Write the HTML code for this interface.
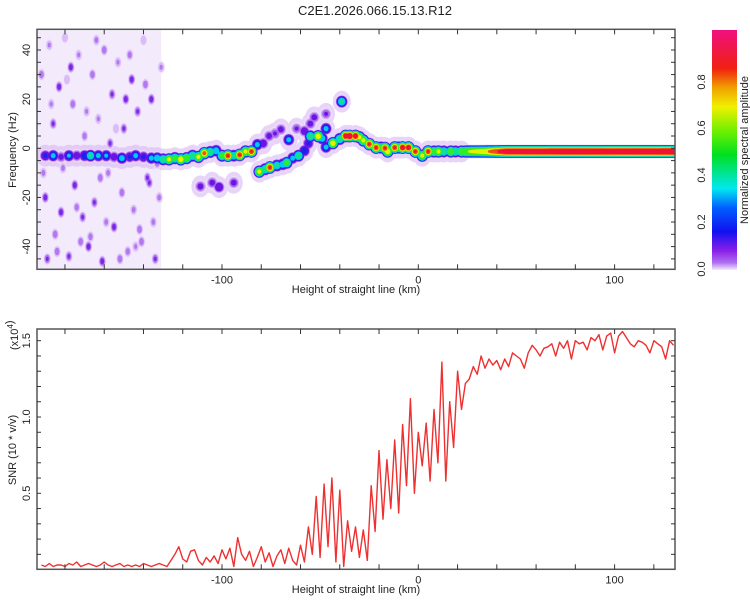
<!DOCTYPE html>
<html><head><meta charset="utf-8"><style>
body{margin:0;background:#fff;}
svg{display:block;font-family:"Liberation Sans",sans-serif;}
</style></head><body>
<svg id="chart" width="750" height="600" viewBox="0 0 750 600" xmlns="http://www.w3.org/2000/svg">
<defs>
<linearGradient id="cbar" x1="0" y1="1" x2="0" y2="0">
<stop offset="0" stop-color="#f4ecfc"/><stop offset="0.03" stop-color="#b070f0"/><stop offset="0.08" stop-color="#8a20e8"/>
<stop offset="0.16" stop-color="#1010f0"/><stop offset="0.26" stop-color="#0060ff"/><stop offset="0.34" stop-color="#00e8f0"/>
<stop offset="0.48" stop-color="#00e020"/><stop offset="0.58" stop-color="#70f000"/><stop offset="0.68" stop-color="#f0f000"/>
<stop offset="0.76" stop-color="#f0a000"/><stop offset="0.84" stop-color="#f02010"/><stop offset="1" stop-color="#f01080"/>
</linearGradient>
<clipPath id="clipTop"><rect x="37" y="29" width="638" height="240"/></clipPath>
<clipPath id="clipBot"><rect x="37" y="329" width="638" height="240"/></clipPath>
</defs>
<text x="375" y="15" text-anchor="middle" font-size="13" fill="#222">C2E1.2026.066.15.13.R12</text>
<g id="topPanel"></g>
<g id="botPanel"></g>
<rect x="712" y="30" width="25" height="240" fill="url(#cbar)"/>
<g font-size="11" fill="#222">
<text transform="translate(705,269) rotate(-90)" text-anchor="middle">0.0</text>
<text transform="translate(705,222) rotate(-90)" text-anchor="middle">0.2</text>
<text transform="translate(705,175) rotate(-90)" text-anchor="middle">0.4</text>
<text transform="translate(705,128) rotate(-90)" text-anchor="middle">0.6</text>
<text transform="translate(705,82) rotate(-90)" text-anchor="middle">0.8</text>
</g>
<text transform="translate(748,150) rotate(-90)" text-anchor="middle" font-size="11" fill="#222">Normalized spectral amplitude</text>
<text transform="translate(16,150) rotate(-90)" text-anchor="middle" font-size="11" fill="#222">Frequency (Hz)</text>
<text x="356" y="293" text-anchor="middle" font-size="11" fill="#222">Height of straight line (km)</text>
<text transform="translate(16,450) rotate(-90)" text-anchor="middle" font-size="11" fill="#222">SNR (10 * v/v)</text>
<text transform="translate(18,350) rotate(-90)" font-size="11" fill="#222">(x10<tspan font-size="8" dy="-5">4</tspan>)</text>
<text x="356" y="593" text-anchor="middle" font-size="11" fill="#222">Height of straight line (km)</text>
</svg>
<script>
// ---------- data ----------
const trackKm = [-190,-186,-182,-178,-174,-170,-167,-163,-159,-155,-151,-147,-144,-140,-136,-133,-130,-127,-124,-121,-118,-115,-112,-109,-106,-103,-100,-97,-94,-91,-88,-85,-82,-79,-76,-73,-70,-66,-62,-58,-55,-53,-47,-39,-81,-78,-75.6,-72,-69,-67,-64,-61,-58,-56,-55,-51,-49,-47,-47,-43.5,-40,-37,-35,-32,-30,-28,-25,-21.5,-19,-17,-15.6,-12,-10,-8,-5,-1.5,2,5,8,10.3,13,16.6,19,22,-111,-105,-101.5,-94];
const trackHz = [-3,-3,-3.5,-3,-3,-3,-3,-3,-3,-3.5,-4,-3.5,-3,-3.5,-4,-4,-4.5,-4.5,-4,-4.5,-4,-3,-3.5,-2,-1.5,-1,-3,-3,-3,-2.7,-1.3,-1.3,1.5,2,5,6,7.7,3.5,8,7,10,12.6,14,19,-9.5,-8.5,-7.8,-7,-6.5,-5.9,-4,-3,-1,2,4.9,4.9,4,8,0.5,2.1,3.8,5,5,5,4.5,3.2,1.7,0.3,0.3,0.1,-1.3,0.3,0.3,0.3,0.3,-1.3,-3,-1.3,-1.3,-1.3,-1.3,-1.3,-1.3,-1.3,-15.5,-14,-15.8,-14];
const trackAmp = [0.3,0.4,0.22,0.38,0.25,0.35,0.5,0.4,0.38,0.25,0.42,0.3,0.4,0.3,0.4,0.45,0.55,0.7,0.6,0.75,0.65,0.55,0.7,0.8,0.55,0.45,0.6,0.85,0.5,0.85,0.7,0.85,0.4,0.25,0.22,0.2,0.22,0.4,0.2,0.25,0.22,0.22,0.2,0.5,0.7,0.55,0.85,0.5,0.45,0.6,0.4,0.55,0.35,0.3,0.55,0.75,0.45,0.4,0.4,0.75,0.55,0.9,0.95,0.9,0.7,0.7,0.85,0.85,0.6,0.85,0.75,0.85,0.65,0.9,0.9,0.85,0.7,0.85,0.6,0.7,0.55,0.65,0.55,0.65,0.22,0.22,0.28,0.22];
const lineKm = [24,35,45,131];
const lineAmp = [0.65,0.75,0.92,0.95];
const lineHz = -1.3;
const noiseKm = [-192,-190,-188,-186,-185,-183,-181,-180,-178,-176,-175,-173,-171,-170,-168,-166,-165,-163,-161,-160,-158,-156,-155,-153,-151,-150,-148,-146,-145,-143,-141,-140,-138,-136,-135,-133,-131,-189,-182,-172,-164,-157,-149,-142,-137,-177,-167,-152,-134,-187,-191,-184,-179,-174,-169,-162,-159,-154,-147,-144,-139,-132];
const noiseHz = [30,-20,42,10,-35,25,-8,45,-44,18,-15,38,-28,5,-40,30,-22,12,-46,40,-10,22,-32,35,-18,8,-42,28,-25,15,-38,44,-12,20,-30,-6,33,-45,-26,-38,44,2,20,-33,-14,33,-36,-45,-45,18,-10,-42,28,-24,15,-12,-30,8,38,-40,26,-20];
const noiseAmp = [0.18,0.22,0.15,0.2,0.18,0.22,0.16,0.14,0.2,0.18,0.22,0.15,0.2,0.17,0.22,0.18,0.2,0.15,0.22,0.18,0.16,0.2,0.22,0.15,0.18,0.2,0.17,0.22,0.16,0.2,0.18,0.14,0.2,0.22,0.16,0.18,0.15,0.2,0.22,0.18,0.16,0.2,0.22,0.18,0.2,0.22,0.17,0.18,0.2,0.15,0.16,0.18,0.14,0.17,0.15,0.18,0.16,0.14,0.17,0.15,0.18,0.16];
const snrStartKm = -192, snrStepKm = 2;
const snrValues = [0.03,0.02,0.04,0.02,0.03,0.03,0.02,0.04,0.03,0.05,0.02,0.03,0.04,0.03,0.02,0.03,0.05,0.03,0.02,0.03,0.04,0.02,0.03,0.02,0.03,0.02,0.04,0.03,0.02,0.03,0.04,
0.03,0.02,0.06,0.10,0.15,0.07,0.05,0.12,0.13,0.06,0.03,0.08,0.05,0.09,0.04,0.13,0.07,0.14,0.02,0.21,0.10,0.06,0.12,0.02,0.08,0.15,0.05,0.11,0.02,0.09,0.13,0.04,0.14,0.06,0.03,0.16,0.05,
0.28,0.10,0.48,0.08,0.56,0.15,0.60,0.05,0.52,0.02,0.32,0.12,0.28,0.08,0.26,0.06,0.55,0.25,0.78,0.33,0.72,0.40,0.85,0.37,0.95,0.55,1.12,0.50,0.90,0.68,0.96,0.58,1.05,0.70,1.36,0.58,1.10,0.80,1.30,1.05,1.22,1.25,1.33,1.28,1.40,1.32,1.38,1.34,1.37,1.31,1.38,1.33,1.42,1.40,1.38,1.32,1.42,1.47,1.44,1.40,1.45,1.46,1.48,1.40,1.49,1.45,1.50,1.38,1.50,1.48,1.49,1.44,1.52,1.50,1.54,1.44,1.53,1.55,1.42,1.53,1.56,1.52,1.48,1.46,1.50,1.49,1.47,1.42,1.50,1.48,1.46,1.38,1.50,1.47];
const xTicks = [-180,-160,-140,-120,-100,-80,-60,-40,-20,0,20,40,60,80,100,120];
const xLabels = [-100,0,100];
const topYTicks = [-45,-40,-35,-30,-25,-20,-15,-10,-5,0,5,10,15,20,25,30,35,40,45];
const topYLabels = [-40,-20,0,20,40];
const botYTicks = [0.1,0.2,0.3,0.4,0.5,0.6,0.7,0.8,0.9,1.0,1.1,1.2,1.3,1.4,1.5];
const botYLabels = ["0.5","1.0","1.5"];

// ---------- scales ----------
const X0=37, X1=675;
const xS = km => 418.3 + 1.963*km;
const yTop = hz => 148.3 - 2.4575*hz;
const yBot = v => 569.6 - 152.6*v;
const NS="http://www.w3.org/2000/svg";
function mk(tag, attrs, parent){const e=document.createElementNS(NS,tag);for(const k in attrs)e.setAttribute(k,attrs[k]);parent.appendChild(e);return e;}

const topG=document.getElementById('topPanel'), botG=document.getElementById('botPanel');
const levels=[[0.02,'#efe3fb'],[0.08,'#d4b2f5'],[0.14,'#a766f0'],[0.19,'#6c14e2'],[0.28,'#2020f0'],[0.36,'#00c8f2'],[0.46,'#10e090'],[0.55,'#30ee20'],[0.66,'#e8f000'],[0.76,'#f05010'],[0.84,'#f0103a']];
const R=6;

const topPlot=mk('g',{'clip-path':'url(#clipTop)'},topG);


const haze=mk('rect',{x:xS(-194.2),y:29,width:xS(-131)-xS(-194.2),height:240,fill:'#efe4fa',opacity:0.75},topPlot);



// soft halo around track
const halo=mk('g',{fill:'#d8b8f4',opacity:0.6},topPlot);


trackKm.forEach((k,i)=>{
  const h=mk('ellipse',{cx:xS(k),cy:yTop(trackHz[i]),rx:R+3,ry:R+5},halo);
  
  
});

const blobs=[];
for(let i=0;i<noiseKm.length;i++) blobs.push([noiseKm[i],noiseHz[i],noiseAmp[i],3.6,1.6]);
for(let i=0;i<trackKm.length;i++) blobs.push([trackKm[i],trackHz[i],trackAmp[i],R,1.05]);
function interpAmp(k){for(let j=0;j<lineKm.length-1;j++){if(k<=lineKm[j+1]){const t=(k-lineKm[j])/(lineKm[j+1]-lineKm[j]);return lineAmp[j]+t*(lineAmp[j+1]-lineAmp[j]);}}return lineAmp[lineAmp.length-1];}
for(let k=lineKm[0];k<=lineKm[lineKm.length-1];k+=1) blobs.push([k,lineHz,interpAmp(k),R,1.05]);

levels.forEach(([t,c],li)=>{
  const g=mk('g',{fill:c},topPlot);
  
  
  blobs.forEach(b=>{
    if(b[2]<=t) return;
    const r=b[3]*Math.sqrt((b[2]-t)/b[2])+0.6;
    const c1=mk('ellipse',{cx:xS(b[0]),cy:yTop(b[1]),rx:r,ry:r*b[4],opacity:b[4]>1.2?0.8:1},g);
    
    
  });
});

function frame(parent, yA, yB, yTicks, yF, yLabels, yLabF, name){
  const fr=mk('rect',{x:X0,y:yA,width:X1-X0,height:yB-yA,fill:'none',stroke:'#555','stroke-width':1.5},parent);
  
  
  xTicks.forEach(k=>{
    const x=xS(k);
    const t1=mk('line',{x1:x,x2:x,y1:yA,y2:yA+5,stroke:'#333'},parent);
    
    
    const t2=mk('line',{x1:x,x2:x,y1:yB,y2:yB-5,stroke:'#333'},parent);
    
    
  });
  xLabels.forEach(k=>{
    const t=mk('text',{x:xS(k),y:yB+14,'text-anchor':'middle','font-size':11,fill:'#222'},parent);
    t.textContent=k;
    
    
  });
  yTicks.forEach(v=>{
    const y=yF(v);
    const t1=mk('line',{x1:X0,x2:X0+4,y1:y,y2:y,stroke:'#333'},parent);
    
    
    const t2=mk('line',{x1:X1,x2:X1-4,y1:y,y2:y,stroke:'#333'},parent);
    
    
  });
  yLabels.forEach(v=>{
    const y=yLabF(v);
    const t=mk('text',{transform:`translate(${X0-7},${y}) rotate(-90)`,'text-anchor':'middle','font-size':11,fill:'#222'},parent);
    t.textContent=v;
    
    
  });
}
frame(topG,29.3,269.3,topYTicks,yTop,topYLabels,yTop,'spectrogram');

const botPlot=mk('g',{'clip-path':'url(#clipBot)'},botG);


const pts=snrValues.map((v,i)=>xS(snrStartKm+i*snrStepKm).toFixed(1)+','+yBot(v).toFixed(1)).join(' ');
const line=mk('polyline',{points:pts,fill:'none',stroke:'#ee3030','stroke-width':1.4,'stroke-linejoin':'round'},botPlot);


frame(botG,329,569.3,botYTicks,yBot,botYLabels,v=>yBot(parseFloat(v)),'snr');
</script>
</body></html>
